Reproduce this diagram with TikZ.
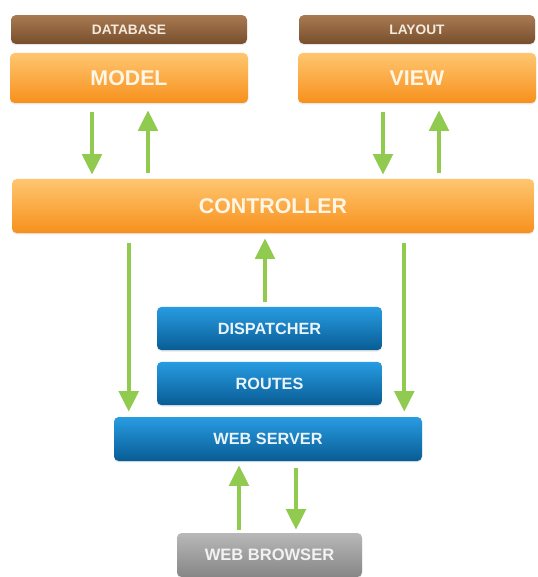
\documentclass[tikz,border=0pt]{standalone}
\usepackage{fontspec}
\setmainfont{Liberation Sans}
\usetikzlibrary{calc,arrows.meta,shadows}
\definecolor{orTop}{RGB}{255,198,112}
\definecolor{orBot}{RGB}{247,144,28}
\definecolor{brTop}{RGB}{168,122,82}
\definecolor{brBot}{RGB}{120,78,44}
\definecolor{blTop}{RGB}{40,156,226}
\definecolor{blBot}{RGB}{8,92,148}
\definecolor{grTop}{RGB}{184,184,184}
\definecolor{grBot}{RGB}{134,134,134}
\definecolor{arrGreen}{RGB}{144,202,78}
\begin{document}
\begin{tikzpicture}[x=0.75pt,y=-0.75pt,
  box/.style={rectangle, rounded corners=3.5pt, shading=axis, inner sep=0pt,
    font=\bfseries, drop shadow={opacity=0.18, shadow xshift=0pt, shadow yshift=-1pt}},
  brownbox/.style={box, top color=brTop, bottom color=brBot, text={rgb,255:red,244;green,234;blue,222},
    minimum width=177pt, minimum height=21.5pt, font=\bfseries\fontsize{10.3}{12}\selectfont},
  orangebox/.style={box, top color=orTop, bottom color=orBot, text={rgb,255:red,255;green,246;blue,230},
    minimum height=37.5pt, font=\bfseries\fontsize{16}{19}\selectfont},
  bluebox/.style={box, top color=blTop, bottom color=blBot, text={rgb,255:red,234;green,243;blue,250},
    minimum height=32.5pt, font=\bfseries\fontsize{12.2}{14}\selectfont},
  graybox/.style={box, top color=grTop, bottom color=grBot, text={rgb,255:red,242;green,242;blue,242},
    minimum height=33pt, font=\bfseries\fontsize{12.4}{14}\selectfont},
  garrow/.style={draw=arrGreen, line width=3.3pt, -{Triangle[width=14.5pt,length=15.5pt]}}
]
\useasboundingbox (0,0) rectangle (537,577);
\fill[white] (0,0) rectangle (537,577);

\node[brownbox] (database) at (129,29.5) {DATABASE};
\node[orangebox, minimum width=178.5pt] (model) at (129,78) {MODEL};
\node[brownbox] (layout) at (417,29.5) {LAYOUT};
\node[orangebox, minimum width=178.5pt] (view) at (417,78) {VIEW};
\node[orangebox, minimum width=391.5pt, minimum height=40.5pt] (controller) at (273,206) {CONTROLLER};
\node[bluebox, minimum width=168.75pt] (dispatcher) at (269.5,328.5) {DISPATCHER};
\node[bluebox, minimum width=168.75pt] (routes) at (269.5,383.5) {ROUTES};
\node[bluebox, minimum width=231pt, minimum height=33pt] (webserver) at (268,439) {WEB SERVER};
\node[graybox, minimum width=138.75pt] (webbrowser) at (269.5,555) {WEB BROWSER};

% model <-> controller
\draw[garrow] ($(model.south)+(-37,9)$) -- ($(model.south|-controller.north)+(-37,-4)$);
\draw[garrow] ($(model.south|-controller.north)+(19,-6)$) -- ($(model.south)+(19,7)$);
% view <-> controller
\draw[garrow] ($(view.south)+(-34,9)$) -- ($(view.south|-controller.north)+(-34,-4)$);
\draw[garrow] ($(view.south|-controller.north)+(22,-6)$) -- ($(view.south)+(22,7)$);
% controller -> web server
\draw[garrow] ($(controller.south-|webserver.west)+(15,10)$) -- ($(webserver.north west)+(15,-5)$);
\draw[garrow] ($(controller.south-|webserver.east)+(-18,10)$) -- ($(webserver.north east)+(-18,-5)$);
% dispatcher -> controller
\draw[garrow] ($(dispatcher.north)+(-4.5,-5)$) -- ($(dispatcher.north|-controller.south)+(-4.5,5)$);
% web browser <-> web server
\draw[garrow] ($(webbrowser.north)+(-30.5,-3)$) -- ($(webbrowser.north|-webserver.south)+(-30.5,4)$);
\draw[garrow] ($(webbrowser.north|-webserver.south)+(26.5,7)$) -- ($(webbrowser.north)+(26.5,-3)$);
\end{tikzpicture}
\end{document}
